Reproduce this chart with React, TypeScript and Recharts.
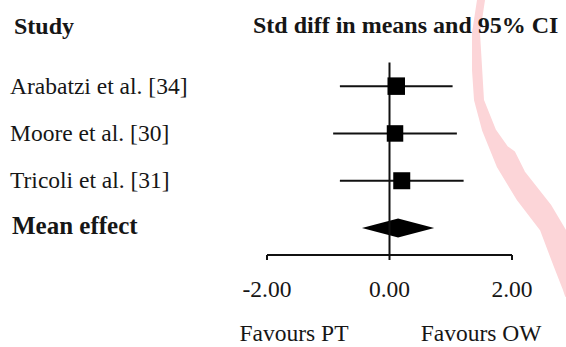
import React from 'react';
import {
  ComposedChart,
  Scatter,
  XAxis,
  YAxis,
  ReferenceLine,
  ReferenceArea,
  Customized,
} from 'recharts';

// ---- data ----
const studies = ['Arabatzi et al. [34]', 'Moore et al. [30]', 'Tricoli et al. [31]'];
const effects = [0.11, 0.09, 0.2];
const lowerCI = [-0.81, -0.92, -0.81];
const upperCI = [1.03, 1.1, 1.21];
const weights = [0.35, 0.33, 0.34];

const summaryLabel = 'Mean effect';
const summaryEffect = 0.14;
const summaryLower = -0.45;
const summaryUpper = 0.73;

const xTicks = [-2, 0, 2];
const favourLabels = ['Favours PT', 'Favours OW'];
const headers = ['Study', 'Std diff in means and 95% CI'];

const rowLabels = [...studies, summaryLabel];
const rowTicks = rowLabels.map((_, i) => i + 1);
const summaryRow = studies.length + 1;

const studyRows = studies.map((name, i) => ({
  name,
  row: i + 1,
  effect: effects[i],
  lower: lowerCI[i],
  upper: upperCI[i],
  weight: weights[i],
}));

const FONT = '"Liberation Serif", "Times New Roman", serif';
const INK = '#161616';
const PINK = '#fcd5d8';

const RowTick = (props: any) => {
  const { y, payload } = props;
  const idx = payload.value - 1;
  const bold = idx === studies.length;
  return (
    <text
      x={bold ? 12 : 10}
      y={y}
      dy={bold ? '0.22em' : '0.33em'}
      textAnchor="start"
      fontFamily={FONT}
      fontSize={bold ? 25 : 23.5}
      fontWeight={bold ? 'bold' : 'normal'}
      fill={INK}
    >
      {rowLabels[idx]}
    </text>
  );
};

const SquareShape = (props: any) => {
  const { cx, cy, payload } = props;
  const side = 50 * payload.weight;
  return <rect x={cx - side / 2} y={cy - side / 2} width={side} height={side} fill="#000" />;
};

const DiamondShape = (props: any) => {
  const { x, y, width, height } = props;
  const apex = x + (width * (summaryEffect - summaryLower)) / (summaryUpper - summaryLower);
  const pts = `${x},${y + height / 2} ${apex},${y} ${x + width},${y + height / 2} ${apex},${y + height}`;
  return <polygon points={pts} fill="#000" />;
};

const Decorations = () => (
  <g>
    <path
      d="M478,0 L473,33 L473,70 L475,100 L483,130 L498,167 L518,200 L541,230 L555,267 L564,290 L566,296 L566,232 L550,205 L524,172 L514,152 L507,147 L495,130 L483,100 L479,33 L484,0 Z"
      fill={PINK}
      stroke={PINK}
      strokeWidth={2}
      strokeLinejoin="round"
    />
    <text x={14} y={34} fontFamily={FONT} fontSize={24} fontWeight="bold" fill={INK}>
      {headers[0]}
    </text>
    <text x={253} y={33} fontFamily={FONT} fontSize={24} fontWeight="bold" fill={INK}>
      {headers[1]}
    </text>
    <text x={294} y={341} textAnchor="middle" fontFamily={FONT} fontSize={23.5} fill={INK}>
      {favourLabels[0]}
    </text>
    <text x={481} y={341} textAnchor="middle" fontFamily={FONT} fontSize={23.5} fill={INK}>
      {favourLabels[1]}
    </text>
  </g>
);

export default function App() {
  return (
    <div style={{ position: 'absolute', left: 0, top: 0, width: 566, height: 347, background: '#fff' }}>
      <ComposedChart
        width={566}
        height={347}
        margin={{ top: 62.5, right: 54, bottom: 0, left: 10 }}
      >
        <Customized component={<Decorations />} />
        <XAxis
          type="number"
          dataKey="effect"
          domain={[-2, 2]}
          ticks={xTicks}
          tickFormatter={(v: number) => v.toFixed(2)}
          height={92}
          tickSize={5}
          tickMargin={20}
          axisLine={{ stroke: '#111', strokeWidth: 2 }}
          tickLine={{ stroke: '#111', strokeWidth: 2 }}
          tick={{ fontFamily: FONT, fontSize: 23.5, fill: INK }}
          allowDataOverflow
        />
        <YAxis
          type="number"
          dataKey="row"
          domain={[0.5, 4.57]}
          reversed
          ticks={rowTicks}
          width={257}
          axisLine={false}
          tickLine={false}
          tick={<RowTick />}
          allowDataOverflow
        />
        <ReferenceLine x={0} stroke="#111" strokeWidth={2} />
        {studyRows.map((r) => (
          <ReferenceLine
            key={r.name}
            segment={[
              { x: r.lower, y: r.row },
              { x: r.upper, y: r.row },
            ]}
            stroke="#111"
            strokeWidth={2}
          />
        ))}
        <ReferenceArea
          x1={summaryLower}
          x2={summaryUpper}
          y1={summaryRow - 0.2}
          y2={summaryRow + 0.2}
          shape={<DiamondShape />}
        />
        <Scatter data={studyRows} shape={<SquareShape />} isAnimationActive={false} />
      </ComposedChart>
    </div>
  );
}
